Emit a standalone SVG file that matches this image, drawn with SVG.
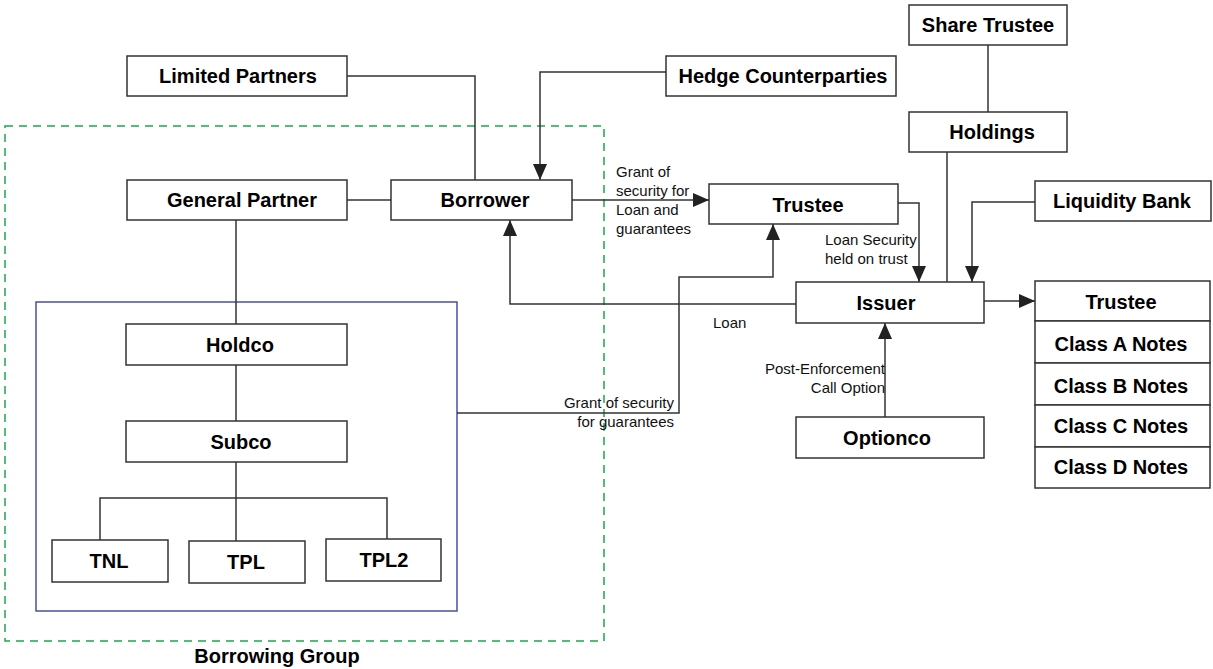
<svg xmlns="http://www.w3.org/2000/svg" width="1213" height="669" viewBox="0 0 1213 669">
<style>
.box{fill:#fff;stroke:#333;stroke-width:1.5}
.lbl{font-family:"Liberation Sans",Arial,sans-serif;font-weight:bold;font-size:20px;fill:#000;text-anchor:middle;dominant-baseline:central}
.sm{font-family:"Liberation Sans",Arial,sans-serif;font-size:15px;fill:#111}
.ln{fill:none;stroke:#333;stroke-width:1.5}
.arr{fill:none;stroke:#333;stroke-width:1.5;marker-end:url(#ah)}
</style>
<defs>
<marker id="ah" viewBox="0 0 16 14" refX="16" refY="7" markerWidth="16" markerHeight="14" markerUnits="userSpaceOnUse" orient="auto">
<path d="M0,0 L16,7 L0,14 Z" fill="#222"/>
</marker>
</defs>
<rect width="1213" height="669" fill="#fff"/>
<g id="borrowing-group">
<rect x="5" y="126" width="599" height="515" fill="none" stroke="#1aa84a" stroke-width="1.5" stroke-dasharray="8,6"/>
<text x="277" y="656" class="lbl">Borrowing Group</text>
</g>
<rect id="blue-frame" x="36" y="302" width="421" height="309" fill="none" stroke="#4a4f9e" stroke-width="1.5"/>
<g id="connectors">
<polyline class="ln" points="347,76 475,76 475,180"/>
<polyline class="arr" points="666,72 540,72 540,180"/>
<line class="ln" x1="347" y1="200" x2="391" y2="200"/>
<line class="ln" x1="236" y1="220" x2="236" y2="324"/>
<line class="ln" x1="236" y1="365" x2="236" y2="421"/>
<line class="ln" x1="236" y1="462" x2="236" y2="541"/>
<polyline class="ln" points="100,540 100,498 387,498 387,539"/>
<line class="arr" x1="572" y1="200" x2="709" y2="200"/>
<polyline class="arr" points="457,413 679,413 679,277 773,277 773,224"/>
<polyline class="arr" points="898,203 919,203 919,282"/>
<line class="ln" x1="947" y1="152" x2="947" y2="282"/>
<line class="ln" x1="988" y1="45" x2="988" y2="112"/>
<polyline class="arr" points="1035,202 972,202 972,282"/>
<polyline class="arr" points="796,304 510,304 510,220"/>
<line class="arr" x1="984" y1="301" x2="1035" y2="301"/>
<line class="arr" x1="885" y1="417" x2="885" y2="323"/>
<text class="sm" x="616" y="177">Grant of</text>
<text class="sm" x="616" y="196">security for</text>
<text class="sm" x="616" y="215">Loan and</text>
<text class="sm" x="616" y="234">guarantees</text>
<text class="sm" x="674" y="408" text-anchor="end">Grant of security</text>
<text class="sm" x="674" y="427" text-anchor="end">for guarantees</text>
<text class="sm" x="825" y="245">Loan Security</text>
<text class="sm" x="825" y="264">held on trust</text>
<text class="sm" x="713" y="328">Loan</text>
<text class="sm" x="885" y="374" text-anchor="end">Post-Enforcement</text>
<text class="sm" x="885" y="393" text-anchor="end">Call Option</text>
</g>
<g id="share-trustee"><rect class="box" x="909" y="5" width="158" height="40"/><text class="lbl" x="988" y="25">Share Trustee</text></g>
<g id="limited-partners"><rect class="box" x="127" y="56" width="220" height="40"/><text class="lbl" x="238" y="76">Limited Partners</text></g>
<g id="hedge-counterparties"><rect class="box" x="666" y="56" width="230" height="40"/><text class="lbl" x="783" y="76">Hedge Counterparties</text></g>
<g id="holdings"><rect class="box" x="909" y="112" width="158" height="40"/><text class="lbl" x="992" y="132">Holdings</text></g>
<g id="general-partner"><rect class="box" x="127" y="180" width="220" height="40"/><text class="lbl" x="242" y="200">General Partner</text></g>
<g id="borrower"><rect class="box" x="391" y="180" width="181" height="40"/><text class="lbl" x="485" y="200">Borrower</text></g>
<g id="trustee-mid"><rect class="box" x="709" y="184" width="189" height="40"/><text class="lbl" x="808" y="205">Trustee</text></g>
<g id="liquidity-bank"><rect class="box" x="1035" y="181" width="176" height="40"/><text class="lbl" x="1122" y="201">Liquidity Bank</text></g>
<g id="issuer"><rect class="box" x="796" y="282" width="188" height="41"/><text class="lbl" x="886" y="303">Issuer</text></g>
<g id="notes-stack">
<rect class="box" x="1035" y="281" width="175" height="40"/><text class="lbl" x="1121" y="302">Trustee</text>
<rect class="box" x="1035" y="321" width="175" height="42"/><text class="lbl" x="1121" y="344">Class A Notes</text>
<rect class="box" x="1035" y="363" width="175" height="42"/><text class="lbl" x="1121" y="386">Class B Notes</text>
<rect class="box" x="1035" y="405" width="175" height="42"/><text class="lbl" x="1121" y="426">Class C Notes</text>
<rect class="box" x="1035" y="447" width="175" height="41"/><text class="lbl" x="1121" y="467">Class D Notes</text>
</g>
<g id="holdco"><rect class="box" x="126" y="324" width="221" height="41"/><text class="lbl" x="240" y="345">Holdco</text></g>
<g id="subco"><rect class="box" x="126" y="421" width="221" height="41"/><text class="lbl" x="241" y="442">Subco</text></g>
<g id="tnl"><rect class="box" x="52" y="540" width="116" height="42"/><text class="lbl" x="109" y="561">TNL</text></g>
<g id="tpl"><rect class="box" x="189" y="541" width="116" height="42"/><text class="lbl" x="246" y="562">TPL</text></g>
<g id="tpl2"><rect class="box" x="326" y="539" width="115" height="42"/><text class="lbl" x="384" y="560">TPL2</text></g>
<g id="optionco"><rect class="box" x="796" y="417" width="188" height="41"/><text class="lbl" x="887" y="438">Optionco</text></g>
</svg>
